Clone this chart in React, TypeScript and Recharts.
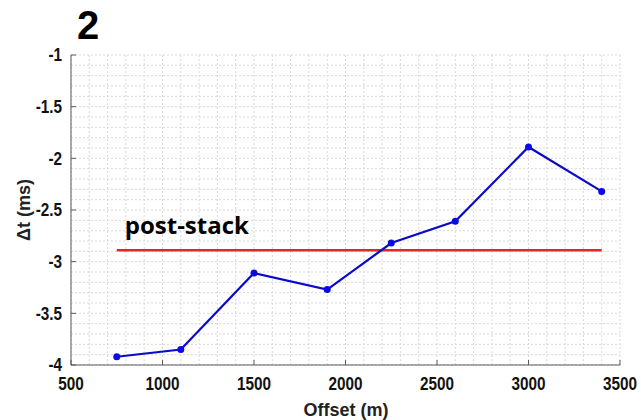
import React from 'react';
import { LineChart, Line, XAxis, YAxis, CartesianGrid, ReferenceLine } from 'recharts';

const offsets = [750, 1100, 1500, 1900, 2250, 2600, 3000, 3400];
const deltaT = [-3.92, -3.85, -3.11, -3.27, -2.82, -2.61, -1.89, -2.32];
const postStackValue = -2.89;
const postStackRange = [750, 3400];

const xTicks = [500, 1000, 1500, 2000, 2500, 3000, 3500];
const yTicks = [-4, -3.5, -3, -2.5, -2, -1.5, -1];

// minor grid spacing
const xMinorStep = 100;
const yMinorStep = 0.1;
const xMinor: number[] = [];
for (let v = 500; v <= 3500; v += xMinorStep) xMinor.push(v);
const yMinor: number[] = [];
for (let i = -40; i <= -10; i += 1) yMinor.push(i * yMinorStep);

const data = offsets.map((x, i) => ({ x, dt: deltaT[i] }));

const font = '"Liberation Sans", Arial, sans-serif';
const axisColor = '#5a5a5a';

// plot box in pixels
const plotLeft = 71;
const plotTop = 55;
const plotW = 549;
const plotH = 310;

const XTick = (props: any) => {
  const { x, y, payload } = props;
  return (
    <g transform={`translate(${x},${y})`}>
      <text
        transform="scale(0.85,1)"
        textAnchor="middle"
        dy="0.71em"
        fontFamily={font}
        fontWeight={700}
        fontSize={18}
        fill="#111"
      >
        {payload.value}
      </text>
    </g>
  );
};

const YTick = (props: any) => {
  const { x, y, payload } = props;
  return (
    <g transform={`translate(${x},${y})`}>
      <text
        transform="scale(0.85,1)"
        textAnchor="end"
        dy="0.355em"
        fontFamily={font}
        fontWeight={700}
        fontSize={18}
        fill="#111"
      >
        {payload.value}
      </text>
    </g>
  );
};

const PostStackLabel = (props: any) => {
  const { viewBox } = props;
  return (
    <text
      x={viewBox.x + 8}
      y={viewBox.y - 16}
      fontFamily='"Open Sans", sans-serif'
      fontWeight={700}
      fontSize={24}
      fill="#000"
    >
      post-stack
    </text>
  );
};

export default function App() {
  return (
    <div style={{ position: 'absolute', left: 0, top: 0, width: 641, height: 420, background: '#fff' }}>
      <LineChart
        width={641}
        height={420}
        data={data}
        margin={{ top: plotTop, right: 21, bottom: 25, left: 10 }}
      >
        <CartesianGrid
          stroke="#d8d8d8"
          strokeDasharray="2 2"
          verticalPoints={xMinor.map((v) => plotLeft + ((v - 500) / 3000) * plotW)}
          horizontalPoints={yMinor.map((v) => plotTop + ((-1 - v) / 3) * plotH)}
        />
        <XAxis
          dataKey="x"
          type="number"
          domain={[500, 3500]}
          ticks={xTicks}
          height={30}
          stroke={axisColor}
          tickSize={-5}
          tickMargin={17}
          tick={<XTick />}
        />
        <XAxis
          xAxisId="top"
          orientation="top"
          dataKey="x"
          type="number"
          domain={[500, 3500]}
          ticks={xTicks}
          height={0}
          stroke={axisColor}
          tickSize={-5}
          tickFormatter={() => ''}
        />
        <YAxis
          type="number"
          domain={[-4, -1]}
          ticks={yTicks}
          width={61}
          stroke={axisColor}
          tickSize={-5}
          tickMargin={14}
          tick={<YTick />}
        />
        <YAxis
          yAxisId="right"
          orientation="right"
          type="number"
          domain={[-4, -1]}
          ticks={yTicks}
          width={0}
          stroke={axisColor}
          tickSize={-5}
          tickFormatter={() => ''}
        />
        <ReferenceLine
          segment={[
            { x: postStackRange[0], y: postStackValue },
            { x: postStackRange[1], y: postStackValue },
          ]}
          stroke="#e3262d"
          strokeWidth={2.5}
          label={<PostStackLabel />}
        />
        <Line
          dataKey="dt"
          stroke="#0a0ac8"
          strokeWidth={2.2}
          dot={{ r: 3.5, fill: '#0a0ae6', stroke: '#0a0ae6', strokeWidth: 0 }}
          isAnimationActive={false}
        />
        <text
          x={77}
          y={39}
          fontFamily={font}
          fontWeight={700}
          fontSize={40}
          fill="#000"
        >
          2
        </text>
        <text
          x={346}
          y={416}
          textAnchor="middle"
          fontFamily={font}
          fontWeight={700}
          fontSize={18}
          fill="#222"
        >
          Offset (m)
        </text>
        <text
          transform="translate(30,210) rotate(-90)"
          textAnchor="middle"
          fontFamily={font}
          fontWeight={700}
          fontSize={18}
          fill="#222"
        >
          Δt (ms)
        </text>
      </LineChart>
    </div>
  );
}
